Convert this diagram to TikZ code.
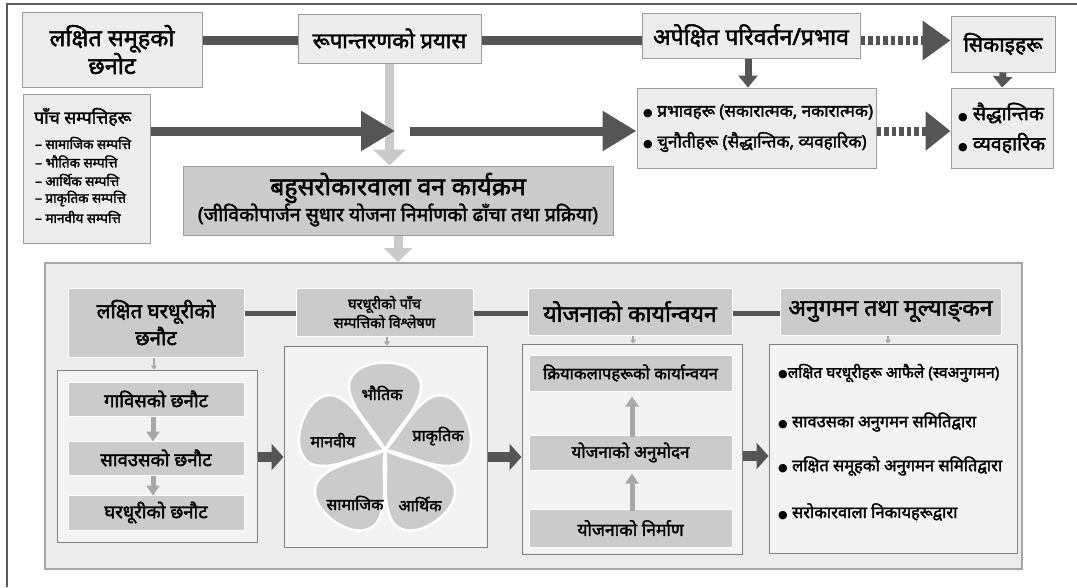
\documentclass[tikz,border=0pt]{standalone}
\usepackage{fontspec}
\setmainfont{Noto Sans}[Script=Devanagari,BoldFont=Noto Sans,BoldFeatures={FakeBold=2}]
\newfontfamily\sym{DejaVu Sans}
\usetikzlibrary{arrows.meta}
\definecolor{boxfill}{HTML}{EDEDED}
\definecolor{boxline}{HTML}{9C9C9C}
\definecolor{midfill}{HTML}{CBCBCB}
\definecolor{darkc}{HTML}{555555}
\definecolor{lightarrow}{HTML}{CACACA}
\definecolor{panelfill}{HTML}{ECECEC}
\definecolor{panelline}{HTML}{A6A6A6}
\definecolor{subfill}{HTML}{F3F3F3}
\definecolor{subline}{HTML}{808080}
\definecolor{smallarrow}{HTML}{A8A8A8}
\definecolor{frame}{HTML}{5A5A5A}
\newcommand{\fs}[2]{\fontsize{#1}{#2}\selectfont}
\newcommand{\bul}{{\sym\fontsize{11}{12}\selectfont ●}}
\begin{document}
\begin{tikzpicture}[x=1pt,y=-1pt,
  topbox/.style={draw=boxline,fill=boxfill,line width=1pt,inner sep=0pt,align=center,font=\bfseries\fs{21}{28}},
  hdrbox/.style={draw=white,fill=midfill,line width=1pt,inner sep=0pt,align=center,font=\bfseries\fs{19}{27}},
  subpanel/.style={draw=subline,fill=subfill,line width=1pt,inner sep=0pt},
  inbox/.style={draw=white,fill=midfill,line width=1pt,inner sep=0pt,align=center,font=\bfseries\fs{18.5}{20}},
  txt/.style={inner sep=0pt,anchor=west,font=\bfseries\fs{17}{20}},
  bar/.style={draw=darkc,line width=9pt},
  thinbar/.style={draw=darkc,line width=5pt},
  bigarrow/.style={draw=darkc,line width=9pt,-{Triangle[length=34pt,width=38pt]}},
  dotbar/.style={draw=darkc,line width=9pt,dash pattern=on 4.5pt off 3pt},
  lightarr/.style={draw=lightarrow,line width=9pt,-{Triangle[length=16pt,width=32pt]}},
  midarrow/.style={draw=darkc,line width=10pt,-{Triangle[length=12pt,width=26pt]}},
  smallarr/.style={draw=smallarrow,line width=2pt,-{Triangle[length=4pt,width=6pt]}},
  updown/.style={draw=smallarrow,line width=5pt,-{Triangle[length=10pt,width=13pt]}},
  petal/.style={fill=midfill,draw=white,line width=2.5pt,line join=round},
  petaltxt/.style={inner sep=0pt,font=\bfseries\fs{16}{18}}
]
\useasboundingbox (0,0) rectangle (1077,587);
\fill[white] (0,0) rectangle (1077,587);
% outer frame lines
\draw[frame,line width=2pt] (7,587) -- (7,4) -- (1077,4);

% top row
\node[topbox,minimum width=180pt,minimum height=75pt,font=\bfseries\fs{23.5}{28}] (A) at (112,49.5) {लक्षित समूहको\\छनोट};
\node[topbox,minimum width=183pt,minimum height=49pt,font=\bfseries\fs{22}{24}] (B) at (389.5,38.5) {रूपान्तरणको प्रयास};
\node[topbox,minimum width=218pt,minimum height=45pt,font=\bfseries\fs{23}{25}] (C) at (751,35.5) {अपेक्षित परिवर्तन/प्रभाव};
\node[topbox,minimum width=104pt,minimum height=56pt,font=\bfseries\fs{21}{23}] (D) at (1003,44) {सिकाइहरू};

\coordinate (ybar) at (0,40.5);
\draw[bar] (A.east |- ybar) -- (B.west |- ybar);
\draw[bar] (B.east |- ybar) -- (C.west |- ybar);
\coordinate (dh1) at (922,40.5);
\draw[dotbar] (C.east |- ybar) -- (dh1);
\draw[draw=darkc,line width=9pt,-{Triangle[length=28pt,width=38pt]}] (dh1) -- (D.west |- ybar);

% row 2
\node[topbox,minimum width=127pt,minimum height=149pt] (E) at (86.5,168.5) {};
\node[txt,font=\bfseries\fs{17.5}{20}] (E0) at (34,117) {पाँच सम्पत्तिहरू};
\node[txt,font=\bfseries\fs{13.5}{15}] (E1) at (35,143) {– सामाजिक सम्पत्ति};
\node[txt,font=\bfseries\fs{13.5}{15}] (E2) at (35,161.5) {– भौतिक सम्पत्ति};
\node[txt,font=\bfseries\fs{13.5}{15}] (E3) at (35,180) {– आर्थिक सम्पत्ति};
\node[txt,font=\bfseries\fs{13.5}{15}] (E4) at (35,198.5) {– प्राकृतिक सम्पत्ति};
\node[txt,font=\bfseries\fs{13.5}{15}] (E5) at (35,217) {– मानवीय सम्पत्ति};

\node[topbox,minimum width=239pt,minimum height=80pt] (F) at (756.5,128) {};
\node[txt] (F1) at (643,112) {\bul\ प्रभावहरू (सकारात्मक, नकारात्मक)};
\node[txt] (F2) at (643,142) {\bul\ चुनौतीहरू (सैद्धान्तिक, व्यवहारिक)};

\node[topbox,minimum width=102pt,minimum height=80pt] (G) at (1002,128) {};
\node[txt,font=\bfseries\fs{19.5}{21}] (G1) at (958,113) {\bul\ सैद्धान्तिक};
\node[txt,font=\bfseries\fs{19.5}{21}] (G2) at (958,143) {\bul\ व्यवहारिक};

\node[draw=boxline,fill=midfill,line width=1pt,minimum width=430pt,minimum height=69pt,inner sep=0pt] (H) at (398,200.5) {};
\node[inner sep=0pt,font=\bfseries\fs{25}{27}] (H1) at (398,188) {बहुसरोकारवाला वन कार्यक्रम};
\node[inner sep=0pt,font=\bfseries\fs{19.5}{22}] (H2) at (398,215) {(जीविकोपार्जन सुधार योजना निर्माणको ढाँचा तथा प्रक्रिया)};

% light vertical arrow B -> H
\draw[lightarr] (B.south) -- (B.south |- H.north);

\coordinate (yrow) at (0,131);
\coordinate (r1end) at (395,131);
\coordinate (r2start) at (410,131);
\draw[bigarrow] (E.east |- yrow) -- (r1end);
\draw[bigarrow] (r2start) -- (F.west |- yrow);
\coordinate (dh2) at (923,131);
\draw[dotbar] (F.east |- yrow) -- (dh2);
\draw[draw=darkc,line width=9pt,-{Triangle[length=25pt,width=38pt]}] (dh2) -- (G.west |- yrow);

% down arrows C->F, D->G
\draw[draw=darkc,line width=7pt,-{Triangle[length=12pt,width=19pt]}] (C.south -| 748,0) -- (F.north -| 748,0);
\draw[draw=darkc,line width=7pt,-{Triangle[length=11pt,width=19pt]}] (D.south) -- (G.north);

% big panel
\node[draw=panelline,fill=panelfill,line width=2pt,minimum width=977pt,minimum height=306pt,inner sep=0pt] (I) at (533.5,416) {};
\draw[draw=lightarrow,line width=9pt,-{Triangle[length=14pt,width=28pt]}] (H.south) -- (H.south |- I.north);

% headers
\node[hdrbox,minimum width=176pt,minimum height=69pt,font=\bfseries\fs{20.5}{27}] (J1) at (156,322.5) {लक्षित घरधूरीको\\छनौट};
\node[hdrbox,minimum width=177pt,minimum height=48pt,font=\bfseries\fs{14.5}{19}] (J2) at (384.5,312) {घरधूरीको पाँच\\सम्पत्तिको विश्लेषण};
\node[hdrbox,minimum width=204pt,minimum height=47pt,font=\bfseries\fs{23}{25}] (J3) at (630,311.5) {योजनाको कार्यान्वयन};
\node[hdrbox,minimum width=221pt,minimum height=47pt,font=\bfseries\fs{23}{25}] (J4) at (890.5,311.5) {अनुगमन तथा मूल्याङ्^^^^200cकन};
\coordinate (ythin) at (0,313);
\draw[thinbar] (J1.east |- ythin) -- (J2.west |- ythin);
\draw[thinbar] (J2.east |- ythin) -- (J3.west |- ythin);
\draw[thinbar] (J3.east |- ythin) -- (J4.west |- ythin);

% sub panels
\node[subpanel,minimum width=200pt,minimum height=172pt] (K1) at (157,456) {};
\node[subpanel,minimum width=203pt,minimum height=201pt] (K2) at (385.5,446.5) {};
\node[subpanel,minimum width=220pt,minimum height=210pt] (K3) at (632,449) {};
\node[subpanel,minimum width=248pt,minimum height=209pt] (K4) at (893,448.5) {};

\draw[smallarr] (J1.south -| 154,0) -- (K1.north -| 154,0);
\draw[smallarr] (J2.south -| 387,0) -- (K2.north -| 387,0);
\draw[smallarr] (J3.south -| 633,0) -- (K3.north -| 633,0);
\draw[smallarr] (J4.south -| 888,0) -- (K4.north -| 888,0);

% K1 content
\node[inbox,minimum width=176pt,minimum height=34pt] (k1a) at (156,399) {गाविसको छनौट};
\node[inbox,minimum width=176pt,minimum height=34pt] (k1b) at (156,458) {सावउसको छनौट};
\node[inbox,minimum width=176pt,minimum height=35pt] (k1c) at (156,512.5) {घरधूरीको छनौट};
\draw[updown] (k1a.south -| 153,0) -- ([yshift=-1pt]k1b.north -| 153,0);
\draw[updown] (k1b.south -| 153,0) -- ([yshift=-1pt]k1c.north -| 153,0);

% K2 flower
\coordinate (fc) at (385,450);
\foreach \a in {0,72,144,216,288}{
  \filldraw[petal,shift={(fc)},rotate=\a]
    (0,0) .. controls (-10,-20) and (-34,-40) .. (-36,-62)
          .. controls (-38,-96) and (38,-96) .. (36,-62)
          .. controls (34,-40) and (10,-20) .. (0,0) -- cycle;
}
\node[petaltxt] (p1) at (382,393) {भौतिक};
\node[petaltxt] (p2) at (438,436) {प्राकृतिक};
\node[petaltxt] (p3) at (420,504) {आर्थिक};
\node[petaltxt] (p4) at (355,503) {सामाजिक};
\node[petaltxt] (p5) at (333,440) {मानवीय};

% K3 content
\node[inbox,minimum width=203pt,minimum height=36pt,font=\bfseries\fs{16.5}{20}] (k3a) at (630.5,373) {क्रियाकलापहरूको कार्यान्वयन};
\node[inbox,minimum width=203pt,minimum height=35pt,font=\bfseries\fs{17}{20}] (k3b) at (630.5,452.5) {योजनाको अनुमोदन};
\node[inbox,minimum width=203pt,minimum height=38pt,font=\bfseries\fs{17.5}{20}] (k3c) at (630.5,528) {योजनाको निर्माण};
\draw[updown] ([yshift=-2pt]k3b.north -| 632,0) -- ([yshift=-5pt]k3a.south -| 632,0);
\draw[updown] ([yshift=-2pt]k3c.north -| 632,0) -- ([yshift=-3pt]k3b.south -| 632,0);

% K4 content
\node[txt,font=\bfseries\fs{15.5}{17}] (L1) at (778,373) {\bul लक्षित घरधूरीहरू आफैले (स्वअनुगमन)};
\node[txt,font=\bfseries\fs{16.5}{18}] (L2) at (778,422) {\bul\ सावउसका अनुगमन समितिद्वारा};
\node[txt,font=\bfseries\fs{16.5}{18}] (L3) at (778,466) {\bul\ लक्षित समूहको अनुगमन समितिद्वारा};
\node[txt,font=\bfseries\fs{16.5}{18}] (L4) at (778,512) {\bul\ सरोकारवाला निकायहरूद्वारा};

% arrows between sub panels
\draw[midarrow] (K1.east |- 0,457) -- (K2.west |- 0,457);
\draw[midarrow] (K2.east |- 0,457) -- (K3.west |- 0,457);
\draw[midarrow] (K3.east |- 0,456) -- (K4.west |- 0,456);
\end{tikzpicture}
\end{document}
